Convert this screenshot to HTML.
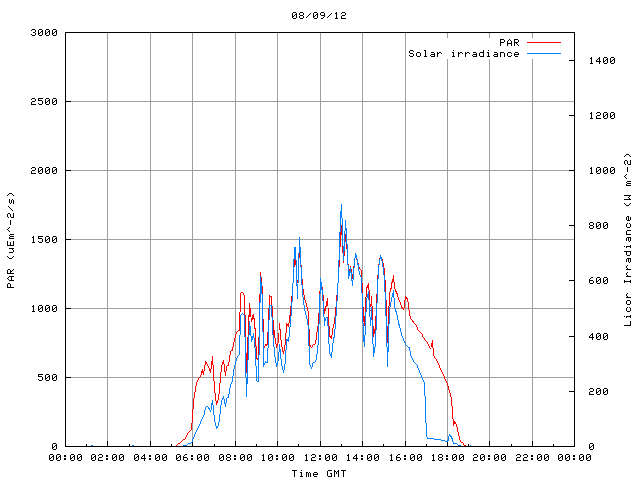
<!DOCTYPE html>
<html><head><meta charset="utf-8"><title>08/09/12</title>
<style>html,body{margin:0;padding:0;background:#fff;font-family:"Liberation Sans",sans-serif}svg{display:block}</style>
</head><body>
<svg width="640" height="480" viewBox="0 0 640 480" shape-rendering="crispEdges">
<rect width="640" height="480" fill="#fff"/>
<path fill="#a0a0a0" d="M447 33h1v5h-1zM489 33h1v5h-1zM532 33h1v5h-1zM107 33h1v413h-1zM150 33h1v413h-1zM192 33h1v413h-1zM235 33h1v413h-1zM277 33h1v413h-1zM320 33h1v413h-1zM362 33h1v413h-1zM405 33h1v413h-1zM447 59h1v387h-1zM489 59h1v387h-1zM532 59h1v387h-1zM66 101h41v1h-41zM108 101h42v1h-42zM151 101h41v1h-41zM193 101h42v1h-42zM236 101h41v1h-41zM278 101h42v1h-42zM321 101h41v1h-41zM363 101h42v1h-42zM406 101h41v1h-41zM448 101h41v1h-41zM490 101h42v1h-42zM533 101h41v1h-41zM66 170h41v1h-41zM108 170h42v1h-42zM151 170h41v1h-41zM193 170h42v1h-42zM236 170h41v1h-41zM278 170h42v1h-42zM321 170h41v1h-41zM363 170h42v1h-42zM406 170h41v1h-41zM448 170h41v1h-41zM490 170h42v1h-42zM533 170h41v1h-41zM66 239h41v1h-41zM108 239h42v1h-42zM151 239h41v1h-41zM193 239h42v1h-42zM236 239h41v1h-41zM278 239h42v1h-42zM321 239h41v1h-41zM363 239h42v1h-42zM406 239h41v1h-41zM448 239h41v1h-41zM490 239h42v1h-42zM533 239h41v1h-41zM66 308h41v1h-41zM108 308h42v1h-42zM151 308h41v1h-41zM193 308h42v1h-42zM236 308h41v1h-41zM278 308h42v1h-42zM321 308h41v1h-41zM363 308h42v1h-42zM406 308h41v1h-41zM448 308h41v1h-41zM490 308h42v1h-42zM533 308h41v1h-41zM66 377h41v1h-41zM108 377h42v1h-42zM151 377h41v1h-41zM193 377h42v1h-42zM236 377h41v1h-41zM278 377h42v1h-42zM321 377h41v1h-41zM363 377h42v1h-42zM406 377h41v1h-41zM448 377h41v1h-41zM490 377h42v1h-42zM533 377h41v1h-41z"/><path fill="#000" d="M293 12h3v1h-3zM300 12h3v1h-3zM314 12h3v1h-3zM321 12h3v1h-3zM342 12h3v1h-3zM336 12h1v7h-1zM310 13h1v1h-1zM331 13h1v1h-1zM335 13h1v1h-1zM341 13h1v1h-1zM299 13h1v2h-1zM303 13h1v2h-1zM320 13h1v2h-1zM345 13h1v2h-1zM324 13h1v4h-1zM292 13h1v5h-1zM296 13h1v5h-1zM313 13h1v5h-1zM317 13h1v5h-1zM295 14h1v1h-1zM309 14h1v1h-1zM316 14h1v1h-1zM330 14h1v1h-1zM294 15h1v1h-1zM300 15h3v1h-3zM308 15h1v1h-1zM315 15h1v1h-1zM321 15h3v1h-3zM329 15h1v1h-1zM342 15h3v1h-3zM293 16h1v1h-1zM307 16h1v1h-1zM314 16h1v1h-1zM328 16h1v1h-1zM299 16h1v2h-1zM303 16h1v2h-1zM341 16h1v3h-1zM306 17h1v1h-1zM323 17h1v1h-1zM327 17h1v1h-1zM293 18h3v1h-3zM300 18h3v1h-3zM314 18h3v1h-3zM321 18h2v1h-2zM335 18h1v1h-1zM337 18h1v1h-1zM342 18h4v1h-4zM32 29h3v1h-3zM39 29h3v1h-3zM46 29h3v1h-3zM53 29h3v1h-3zM31 30h1v1h-1zM35 30h1v2h-1zM38 30h1v5h-1zM42 30h1v5h-1zM45 30h1v5h-1zM49 30h1v5h-1zM52 30h1v5h-1zM56 30h1v5h-1zM41 31h1v1h-1zM48 31h1v1h-1zM55 31h1v1h-1zM33 32h2v1h-2zM40 32h1v1h-1zM47 32h1v1h-1zM54 32h1v1h-1zM66 32h508v1h-508zM65 32h1v415h-1zM574 32h1v415h-1zM39 33h1v1h-1zM46 33h1v1h-1zM53 33h1v1h-1zM35 33h1v2h-1zM31 34h1v1h-1zM32 35h3v1h-3zM39 35h3v1h-3zM46 35h3v1h-3zM53 35h3v1h-3zM501 39h3v1h-3zM509 39h1v1h-1zM515 39h3v1h-3zM500 39h1v7h-1zM514 39h1v7h-1zM508 40h1v1h-1zM510 40h1v1h-1zM504 40h1v2h-1zM518 40h1v2h-1zM507 41h1v5h-1zM511 41h1v5h-1zM501 42h3v1h-3zM515 42h1v1h-1zM517 42h1v1h-1zM516 42h1v2h-1zM508 43h3v1h-3zM517 44h1v1h-1zM518 45h1v1h-1zM410 50h3v1h-3zM424 50h1v1h-1zM453 50h1v1h-1zM488 50h1v1h-1zM425 50h1v7h-1zM483 50h1v7h-1zM413 51h1v1h-1zM409 51h1v2h-1zM417 52h3v1h-3zM431 52h3v1h-3zM439 52h2v1h-2zM452 52h1v1h-1zM460 52h2v1h-2zM467 52h2v1h-2zM473 52h3v1h-3zM480 52h3v1h-3zM487 52h1v1h-1zM494 52h3v1h-3zM501 52h3v1h-3zM508 52h3v1h-3zM515 52h3v1h-3zM437 52h1v5h-1zM453 52h1v5h-1zM458 52h1v5h-1zM465 52h1v5h-1zM488 52h1v5h-1zM500 52h1v5h-1zM410 53h3v1h-3zM438 53h1v1h-1zM441 53h1v1h-1zM459 53h1v1h-1zM462 53h1v1h-1zM466 53h1v1h-1zM469 53h1v1h-1zM511 53h1v1h-1zM518 53h1v2h-1zM416 53h1v3h-1zM420 53h1v3h-1zM479 53h1v3h-1zM507 53h1v3h-1zM514 53h1v3h-1zM434 53h1v4h-1zM476 53h1v4h-1zM497 53h1v4h-1zM504 53h1v4h-1zM431 54h3v1h-3zM473 54h3v1h-3zM494 54h3v1h-3zM515 54h3v1h-3zM413 54h1v2h-1zM409 55h1v1h-1zM430 55h1v1h-1zM472 55h1v1h-1zM493 55h1v1h-1zM511 55h1v1h-1zM410 56h3v1h-3zM417 56h3v1h-3zM424 56h1v1h-1zM426 56h1v1h-1zM431 56h3v1h-3zM452 56h1v1h-1zM454 56h1v1h-1zM473 56h3v1h-3zM480 56h3v1h-3zM487 56h1v1h-1zM489 56h1v1h-1zM494 56h3v1h-3zM508 56h3v1h-3zM515 56h3v1h-3zM604 57h3v1h-3zM611 57h3v1h-3zM591 57h1v7h-1zM599 57h1v7h-1zM590 58h1v1h-1zM598 58h1v1h-1zM603 58h1v5h-1zM607 58h1v5h-1zM610 58h1v5h-1zM614 58h1v5h-1zM597 59h1v1h-1zM606 59h1v1h-1zM613 59h1v1h-1zM569 60h5v1h-5zM605 60h1v1h-1zM612 60h1v1h-1zM596 60h1v2h-1zM597 61h2v1h-2zM600 61h1v1h-1zM604 61h1v1h-1zM611 61h1v1h-1zM590 63h1v1h-1zM592 63h1v1h-1zM604 63h3v1h-3zM611 63h3v1h-3zM32 98h3v1h-3zM39 98h4v1h-4zM46 98h3v1h-3zM53 98h3v1h-3zM38 98h1v3h-1zM31 99h1v1h-1zM35 99h1v2h-1zM45 99h1v5h-1zM49 99h1v5h-1zM52 99h1v5h-1zM56 99h1v5h-1zM39 100h3v1h-3zM48 100h1v1h-1zM55 100h1v1h-1zM32 101h3v1h-3zM47 101h1v1h-1zM54 101h1v1h-1zM66 101h5v1h-5zM42 101h1v3h-1zM46 102h1v1h-1zM53 102h1v1h-1zM31 102h1v3h-1zM38 103h1v1h-1zM32 104h4v1h-4zM39 104h3v1h-3zM46 104h3v1h-3zM53 104h3v1h-3zM597 112h3v1h-3zM604 112h3v1h-3zM611 112h3v1h-3zM591 112h1v7h-1zM590 113h1v1h-1zM596 113h1v1h-1zM600 113h1v2h-1zM603 113h1v5h-1zM607 113h1v5h-1zM610 113h1v5h-1zM614 113h1v5h-1zM606 114h1v1h-1zM613 114h1v1h-1zM569 115h5v1h-5zM597 115h3v1h-3zM605 115h1v1h-1zM612 115h1v1h-1zM604 116h1v1h-1zM611 116h1v1h-1zM596 116h1v3h-1zM590 118h1v1h-1zM592 118h1v1h-1zM597 118h4v1h-4zM604 118h3v1h-3zM611 118h3v1h-3zM626 154h3v1h-3zM625 155h1v1h-1zM629 155h1v1h-1zM624 156h1v1h-1zM630 156h1v1h-1zM625 160h2v1h-2zM630 160h1v5h-1zM624 161h1v3h-1zM627 161h1v3h-1zM625 164h1v1h-1zM628 164h2v1h-2zM32 167h3v1h-3zM39 167h3v1h-3zM46 167h3v1h-3zM53 167h3v1h-3zM597 167h3v1h-3zM604 167h3v1h-3zM611 167h3v1h-3zM627 167h1v5h-1zM591 167h1v7h-1zM31 168h1v1h-1zM590 168h1v1h-1zM35 168h1v2h-1zM38 168h1v5h-1zM42 168h1v5h-1zM45 168h1v5h-1zM49 168h1v5h-1zM52 168h1v5h-1zM56 168h1v5h-1zM596 168h1v5h-1zM600 168h1v5h-1zM603 168h1v5h-1zM607 168h1v5h-1zM610 168h1v5h-1zM614 168h1v5h-1zM41 169h1v1h-1zM48 169h1v1h-1zM55 169h1v1h-1zM599 169h1v1h-1zM606 169h1v1h-1zM613 169h1v1h-1zM32 170h3v1h-3zM40 170h1v1h-1zM47 170h1v1h-1zM54 170h1v1h-1zM66 170h5v1h-5zM569 170h5v1h-5zM598 170h1v1h-1zM605 170h1v1h-1zM612 170h1v1h-1zM39 171h1v1h-1zM46 171h1v1h-1zM53 171h1v1h-1zM597 171h1v1h-1zM604 171h1v1h-1zM611 171h1v1h-1zM31 171h1v3h-1zM32 173h4v1h-4zM39 173h3v1h-3zM46 173h3v1h-3zM53 173h3v1h-3zM590 173h1v1h-1zM592 173h1v1h-1zM597 173h3v1h-3zM604 173h3v1h-3zM611 173h3v1h-3zM626 174h1v1h-1zM625 175h1v1h-1zM624 176h1v1h-1zM625 177h1v1h-1zM626 178h1v1h-1zM627 181h4v1h-4zM626 182h1v1h-1zM627 183h4v1h-4zM626 184h1v2h-1zM627 185h4v1h-4zM9 193h3v1h-3zM8 194h1v1h-1zM12 194h1v1h-1zM7 195h1v1h-1zM13 195h1v1h-1zM624 195h5v1h-5zM630 195h1v1h-1zM629 195h1v2h-1zM628 197h1v1h-1zM629 198h1v2h-1zM12 199h1v1h-1zM624 199h5v1h-5zM630 199h1v1h-1zM9 199h1v4h-1zM11 200h1v3h-1zM13 200h1v4h-1zM10 203h1v1h-1zM624 203h1v1h-1zM630 203h1v1h-1zM625 204h1v1h-1zM629 204h1v1h-1zM626 205h3v1h-3zM8 206h1v1h-1zM9 207h1v1h-1zM10 208h1v1h-1zM11 209h1v1h-1zM12 210h1v1h-1zM8 213h2v1h-2zM13 213h1v5h-1zM7 214h1v3h-1zM10 214h1v3h-1zM627 216h1v1h-1zM628 216h1v5h-1zM8 217h1v1h-1zM11 217h2v1h-2zM626 217h1v3h-1zM630 217h1v3h-1zM627 220h1v1h-1zM629 220h1v1h-1zM10 220h1v5h-1zM590 222h3v1h-3zM597 222h3v1h-3zM604 222h3v1h-3zM627 223h1v1h-1zM629 223h1v1h-1zM589 223h1v2h-1zM593 223h1v2h-1zM596 223h1v5h-1zM600 223h1v5h-1zM603 223h1v5h-1zM607 223h1v5h-1zM599 224h1v1h-1zM606 224h1v1h-1zM626 224h1v3h-1zM630 224h1v3h-1zM569 225h5v1h-5zM590 225h3v1h-3zM598 225h1v1h-1zM605 225h1v1h-1zM597 226h1v1h-1zM604 226h1v1h-1zM589 226h1v2h-1zM593 226h1v2h-1zM9 227h1v1h-1zM627 227h3v1h-3zM8 228h1v1h-1zM590 228h3v1h-3zM597 228h3v1h-3zM604 228h3v1h-3zM7 229h1v1h-1zM8 230h1v1h-1zM627 230h4v1h-4zM9 231h1v1h-1zM626 231h1v4h-1zM10 234h4v1h-4zM627 234h4v1h-4zM9 235h1v1h-1zM10 236h4v1h-4zM39 236h4v1h-4zM46 236h3v1h-3zM53 236h3v1h-3zM38 236h1v3h-1zM33 236h1v7h-1zM32 237h1v1h-1zM627 237h1v1h-1zM629 237h1v1h-1zM9 237h1v2h-1zM628 237h1v4h-1zM630 237h1v4h-1zM45 237h1v5h-1zM49 237h1v5h-1zM52 237h1v5h-1zM56 237h1v5h-1zM10 238h4v1h-4zM39 238h3v1h-3zM48 238h1v1h-1zM55 238h1v1h-1zM626 238h1v3h-1zM47 239h1v1h-1zM54 239h1v1h-1zM66 239h5v1h-5zM42 239h1v3h-1zM46 240h1v1h-1zM53 240h1v1h-1zM38 241h1v1h-1zM629 241h1v1h-1zM7 241h1v5h-1zM13 241h1v5h-1zM32 242h1v1h-1zM34 242h1v1h-1zM39 242h3v1h-3zM46 242h3v1h-3zM53 242h3v1h-3zM10 242h1v4h-1zM8 245h2v1h-2zM11 245h2v1h-2zM630 245h1v3h-1zM624 246h1v1h-1zM627 246h3v1h-3zM626 246h1v2h-1zM9 248h3v1h-3zM13 248h1v1h-1zM12 248h1v2h-1zM13 250h1v2h-1zM624 251h2v1h-2zM627 251h3v1h-3zM626 251h1v4h-1zM630 251h1v4h-1zM9 252h4v1h-4zM627 255h3v1h-3zM7 256h1v1h-1zM13 256h1v1h-1zM8 257h1v1h-1zM12 257h1v1h-1zM9 258h3v1h-3zM627 258h1v1h-1zM629 258h1v1h-1zM628 258h1v4h-1zM630 258h1v4h-1zM626 259h1v3h-1zM629 262h1v1h-1zM627 265h1v1h-1zM626 266h1v2h-1zM627 268h1v2h-1zM8 269h2v1h-2zM13 269h1v1h-1zM626 269h1v1h-1zM628 269h3v1h-3zM12 270h1v1h-1zM7 270h1v4h-1zM10 270h1v4h-1zM11 271h1v1h-1zM627 272h1v1h-1zM8 273h2v1h-2zM11 273h3v1h-3zM626 273h1v2h-1zM627 275h1v2h-1zM9 276h2v1h-2zM12 276h2v1h-2zM626 276h1v1h-1zM628 276h3v1h-3zM11 276h1v5h-1zM8 277h1v1h-1zM591 277h2v1h-2zM597 277h3v1h-3zM604 277h3v1h-3zM7 278h1v1h-1zM590 278h1v1h-1zM596 278h1v5h-1zM600 278h1v5h-1zM603 278h1v5h-1zM607 278h1v5h-1zM8 279h1v1h-1zM599 279h1v1h-1zM606 279h1v1h-1zM589 279h1v4h-1zM9 280h2v1h-2zM12 280h2v1h-2zM569 280h5v1h-5zM590 280h3v1h-3zM598 280h1v1h-1zM605 280h1v1h-1zM624 280h1v3h-1zM630 280h1v3h-1zM597 281h1v1h-1zM604 281h1v1h-1zM625 281h5v1h-5zM593 281h1v2h-1zM8 283h2v1h-2zM590 283h3v1h-3zM597 283h3v1h-3zM604 283h3v1h-3zM7 284h1v4h-1zM10 284h1v4h-1zM8 287h2v1h-2zM11 287h3v1h-3zM627 293h1v1h-1zM626 294h1v2h-1zM627 296h1v2h-1zM626 297h1v1h-1zM628 297h3v1h-3zM627 300h3v1h-3zM626 301h1v3h-1zM630 301h1v3h-1zM627 304h3v1h-3zM39 305h3v1h-3zM46 305h3v1h-3zM53 305h3v1h-3zM33 305h1v7h-1zM32 306h1v1h-1zM38 306h1v5h-1zM42 306h1v5h-1zM45 306h1v5h-1zM49 306h1v5h-1zM52 306h1v5h-1zM56 306h1v5h-1zM41 307h1v1h-1zM48 307h1v1h-1zM55 307h1v1h-1zM627 307h1v1h-1zM629 307h1v1h-1zM40 308h1v1h-1zM47 308h1v1h-1zM54 308h1v1h-1zM66 308h5v1h-5zM626 308h1v3h-1zM630 308h1v3h-1zM39 309h1v1h-1zM46 309h1v1h-1zM53 309h1v1h-1zM32 311h1v1h-1zM34 311h1v1h-1zM39 311h3v1h-3zM46 311h3v1h-3zM53 311h3v1h-3zM627 311h3v1h-3zM630 315h1v3h-1zM624 316h1v1h-1zM627 316h3v1h-3zM626 316h1v2h-1zM630 321h1v5h-1zM624 325h6v1h-6zM597 333h3v1h-3zM604 333h3v1h-3zM592 333h1v7h-1zM591 334h1v1h-1zM596 334h1v5h-1zM600 334h1v5h-1zM603 334h1v5h-1zM607 334h1v5h-1zM590 335h1v1h-1zM599 335h1v1h-1zM606 335h1v1h-1zM569 336h5v1h-5zM598 336h1v1h-1zM605 336h1v1h-1zM589 336h1v2h-1zM590 337h2v1h-2zM593 337h1v1h-1zM597 337h1v1h-1zM604 337h1v1h-1zM597 339h3v1h-3zM604 339h3v1h-3zM39 374h4v1h-4zM46 374h3v1h-3zM53 374h3v1h-3zM38 374h1v3h-1zM45 375h1v5h-1zM49 375h1v5h-1zM52 375h1v5h-1zM56 375h1v5h-1zM39 376h3v1h-3zM48 376h1v1h-1zM55 376h1v1h-1zM47 377h1v1h-1zM54 377h1v1h-1zM66 377h5v1h-5zM42 377h1v3h-1zM46 378h1v1h-1zM53 378h1v1h-1zM38 379h1v1h-1zM39 380h3v1h-3zM46 380h3v1h-3zM53 380h3v1h-3zM590 388h3v1h-3zM597 388h3v1h-3zM604 388h3v1h-3zM589 389h1v1h-1zM593 389h1v2h-1zM596 389h1v5h-1zM600 389h1v5h-1zM603 389h1v5h-1zM607 389h1v5h-1zM599 390h1v1h-1zM606 390h1v1h-1zM569 391h5v1h-5zM590 391h3v1h-3zM598 391h1v1h-1zM605 391h1v1h-1zM597 392h1v1h-1zM604 392h1v1h-1zM589 392h1v3h-1zM590 394h4v1h-4zM597 394h3v1h-3zM604 394h3v1h-3zM107 441h1v6h-1zM150 441h1v6h-1zM192 441h1v6h-1zM235 441h1v6h-1zM277 441h1v6h-1zM320 441h1v6h-1zM362 441h1v6h-1zM405 441h1v6h-1zM447 441h1v6h-1zM489 441h1v6h-1zM532 441h1v6h-1zM53 443h3v1h-3zM590 443h3v1h-3zM86 444h1v3h-1zM129 444h1v3h-1zM171 444h1v3h-1zM214 444h1v3h-1zM256 444h1v3h-1zM298 444h1v3h-1zM341 444h1v3h-1zM383 444h1v3h-1zM426 444h1v3h-1zM468 444h1v3h-1zM511 444h1v3h-1zM553 444h1v3h-1zM52 444h1v5h-1zM56 444h1v5h-1zM589 444h1v5h-1zM593 444h1v5h-1zM55 445h1v1h-1zM592 445h1v1h-1zM54 446h1v1h-1zM66 446h20v1h-20zM87 446h20v1h-20zM108 446h21v1h-21zM130 446h20v1h-20zM151 446h20v1h-20zM172 446h20v1h-20zM193 446h21v1h-21zM215 446h20v1h-20zM236 446h20v1h-20zM257 446h20v1h-20zM278 446h20v1h-20zM299 446h21v1h-21zM321 446h20v1h-20zM342 446h20v1h-20zM363 446h20v1h-20zM384 446h21v1h-21zM406 446h20v1h-20zM427 446h20v1h-20zM448 446h20v1h-20zM469 446h20v1h-20zM490 446h21v1h-21zM512 446h20v1h-20zM533 446h20v1h-20zM554 446h20v1h-20zM591 446h1v1h-1zM53 447h1v1h-1zM590 447h1v1h-1zM53 449h3v1h-3zM590 449h3v1h-3zM50 454h3v1h-3zM57 454h3v1h-3zM71 454h3v1h-3zM78 454h3v1h-3zM92 454h3v1h-3zM99 454h3v1h-3zM113 454h3v1h-3zM120 454h3v1h-3zM135 454h3v1h-3zM156 454h3v1h-3zM163 454h3v1h-3zM177 454h3v1h-3zM185 454h2v1h-2zM198 454h3v1h-3zM205 454h3v1h-3zM220 454h3v1h-3zM227 454h3v1h-3zM241 454h3v1h-3zM248 454h3v1h-3zM269 454h3v1h-3zM283 454h3v1h-3zM290 454h3v1h-3zM312 454h3v1h-3zM326 454h3v1h-3zM333 454h3v1h-3zM368 454h3v1h-3zM375 454h3v1h-3zM398 454h2v1h-2zM411 454h3v1h-3zM418 454h3v1h-3zM439 454h3v1h-3zM453 454h3v1h-3zM460 454h3v1h-3zM474 454h3v1h-3zM481 454h3v1h-3zM495 454h3v1h-3zM502 454h3v1h-3zM517 454h3v1h-3zM524 454h3v1h-3zM538 454h3v1h-3zM545 454h3v1h-3zM559 454h3v1h-3zM566 454h3v1h-3zM580 454h3v1h-3zM587 454h3v1h-3zM144 454h1v7h-1zM263 454h1v7h-1zM306 454h1v7h-1zM348 454h1v7h-1zM356 454h1v7h-1zM391 454h1v7h-1zM433 454h1v7h-1zM98 455h1v1h-1zM143 455h1v1h-1zM184 455h1v1h-1zM262 455h1v1h-1zM305 455h1v1h-1zM311 455h1v1h-1zM347 455h1v1h-1zM355 455h1v1h-1zM390 455h1v1h-1zM397 455h1v1h-1zM432 455h1v1h-1zM473 455h1v1h-1zM516 455h1v1h-1zM523 455h1v1h-1zM64 455h2v2h-2zM102 455h1v2h-1zM106 455h2v2h-2zM149 455h2v2h-2zM191 455h2v2h-2zM226 455h1v2h-1zM230 455h1v2h-1zM234 455h2v2h-2zM276 455h2v2h-2zM315 455h1v2h-1zM319 455h2v2h-2zM361 455h2v2h-2zM404 455h2v2h-2zM438 455h1v2h-1zM442 455h1v2h-1zM446 455h2v2h-2zM477 455h1v2h-1zM488 455h2v2h-2zM520 455h1v2h-1zM527 455h1v2h-1zM531 455h2v2h-2zM573 455h2v2h-2zM49 455h1v5h-1zM53 455h1v5h-1zM56 455h1v5h-1zM60 455h1v5h-1zM70 455h1v5h-1zM74 455h1v5h-1zM77 455h1v5h-1zM81 455h1v5h-1zM91 455h1v5h-1zM95 455h1v5h-1zM112 455h1v5h-1zM116 455h1v5h-1zM119 455h1v5h-1zM123 455h1v5h-1zM134 455h1v5h-1zM138 455h1v5h-1zM155 455h1v5h-1zM159 455h1v5h-1zM162 455h1v5h-1zM166 455h1v5h-1zM176 455h1v5h-1zM180 455h1v5h-1zM197 455h1v5h-1zM201 455h1v5h-1zM204 455h1v5h-1zM208 455h1v5h-1zM219 455h1v5h-1zM223 455h1v5h-1zM240 455h1v5h-1zM244 455h1v5h-1zM247 455h1v5h-1zM251 455h1v5h-1zM268 455h1v5h-1zM272 455h1v5h-1zM282 455h1v5h-1zM286 455h1v5h-1zM289 455h1v5h-1zM293 455h1v5h-1zM325 455h1v5h-1zM329 455h1v5h-1zM332 455h1v5h-1zM336 455h1v5h-1zM367 455h1v5h-1zM371 455h1v5h-1zM374 455h1v5h-1zM378 455h1v5h-1zM410 455h1v5h-1zM414 455h1v5h-1zM417 455h1v5h-1zM421 455h1v5h-1zM452 455h1v5h-1zM456 455h1v5h-1zM459 455h1v5h-1zM463 455h1v5h-1zM480 455h1v5h-1zM484 455h1v5h-1zM494 455h1v5h-1zM498 455h1v5h-1zM501 455h1v5h-1zM505 455h1v5h-1zM537 455h1v5h-1zM541 455h1v5h-1zM544 455h1v5h-1zM548 455h1v5h-1zM558 455h1v5h-1zM562 455h1v5h-1zM565 455h1v5h-1zM569 455h1v5h-1zM579 455h1v5h-1zM583 455h1v5h-1zM586 455h1v5h-1zM590 455h1v5h-1zM52 456h1v1h-1zM59 456h1v1h-1zM73 456h1v1h-1zM80 456h1v1h-1zM94 456h1v1h-1zM115 456h1v1h-1zM122 456h1v1h-1zM137 456h1v1h-1zM142 456h1v1h-1zM158 456h1v1h-1zM165 456h1v1h-1zM179 456h1v1h-1zM200 456h1v1h-1zM207 456h1v1h-1zM222 456h1v1h-1zM243 456h1v1h-1zM250 456h1v1h-1zM271 456h1v1h-1zM285 456h1v1h-1zM292 456h1v1h-1zM328 456h1v1h-1zM335 456h1v1h-1zM354 456h1v1h-1zM370 456h1v1h-1zM377 456h1v1h-1zM413 456h1v1h-1zM420 456h1v1h-1zM455 456h1v1h-1zM462 456h1v1h-1zM483 456h1v1h-1zM497 456h1v1h-1zM504 456h1v1h-1zM540 456h1v1h-1zM547 456h1v1h-1zM561 456h1v1h-1zM568 456h1v1h-1zM582 456h1v1h-1zM589 456h1v1h-1zM183 456h1v4h-1zM396 456h1v4h-1zM51 457h1v1h-1zM58 457h1v1h-1zM72 457h1v1h-1zM79 457h1v1h-1zM93 457h1v1h-1zM99 457h3v1h-3zM114 457h1v1h-1zM121 457h1v1h-1zM136 457h1v1h-1zM157 457h1v1h-1zM164 457h1v1h-1zM178 457h1v1h-1zM184 457h3v1h-3zM199 457h1v1h-1zM206 457h1v1h-1zM221 457h1v1h-1zM227 457h3v1h-3zM242 457h1v1h-1zM249 457h1v1h-1zM270 457h1v1h-1zM284 457h1v1h-1zM291 457h1v1h-1zM312 457h3v1h-3zM327 457h1v1h-1zM334 457h1v1h-1zM369 457h1v1h-1zM376 457h1v1h-1zM397 457h3v1h-3zM412 457h1v1h-1zM419 457h1v1h-1zM439 457h3v1h-3zM454 457h1v1h-1zM461 457h1v1h-1zM474 457h3v1h-3zM482 457h1v1h-1zM496 457h1v1h-1zM503 457h1v1h-1zM517 457h3v1h-3zM524 457h3v1h-3zM539 457h1v1h-1zM546 457h1v1h-1zM560 457h1v1h-1zM567 457h1v1h-1zM581 457h1v1h-1zM588 457h1v1h-1zM141 457h1v2h-1zM353 457h1v2h-1zM50 458h1v1h-1zM57 458h1v1h-1zM71 458h1v1h-1zM78 458h1v1h-1zM92 458h1v1h-1zM113 458h1v1h-1zM120 458h1v1h-1zM135 458h1v1h-1zM142 458h2v1h-2zM145 458h1v1h-1zM156 458h1v1h-1zM163 458h1v1h-1zM177 458h1v1h-1zM198 458h1v1h-1zM205 458h1v1h-1zM220 458h1v1h-1zM241 458h1v1h-1zM248 458h1v1h-1zM269 458h1v1h-1zM283 458h1v1h-1zM290 458h1v1h-1zM326 458h1v1h-1zM333 458h1v1h-1zM354 458h2v1h-2zM357 458h1v1h-1zM368 458h1v1h-1zM375 458h1v1h-1zM411 458h1v1h-1zM418 458h1v1h-1zM453 458h1v1h-1zM460 458h1v1h-1zM481 458h1v1h-1zM495 458h1v1h-1zM502 458h1v1h-1zM538 458h1v1h-1zM545 458h1v1h-1zM559 458h1v1h-1zM566 458h1v1h-1zM580 458h1v1h-1zM587 458h1v1h-1zM64 458h2v2h-2zM106 458h2v2h-2zM149 458h2v2h-2zM187 458h1v2h-1zM191 458h2v2h-2zM226 458h1v2h-1zM230 458h1v2h-1zM234 458h2v2h-2zM276 458h2v2h-2zM319 458h2v2h-2zM361 458h2v2h-2zM400 458h1v2h-1zM404 458h2v2h-2zM438 458h1v2h-1zM442 458h1v2h-1zM446 458h2v2h-2zM488 458h2v2h-2zM531 458h2v2h-2zM573 458h2v2h-2zM98 458h1v3h-1zM311 458h1v3h-1zM473 458h1v3h-1zM516 458h1v3h-1zM523 458h1v3h-1zM50 460h3v1h-3zM57 460h3v1h-3zM71 460h3v1h-3zM78 460h3v1h-3zM92 460h3v1h-3zM99 460h4v1h-4zM113 460h3v1h-3zM120 460h3v1h-3zM135 460h3v1h-3zM156 460h3v1h-3zM163 460h3v1h-3zM177 460h3v1h-3zM184 460h3v1h-3zM198 460h3v1h-3zM205 460h3v1h-3zM220 460h3v1h-3zM227 460h3v1h-3zM241 460h3v1h-3zM248 460h3v1h-3zM262 460h1v1h-1zM264 460h1v1h-1zM269 460h3v1h-3zM283 460h3v1h-3zM290 460h3v1h-3zM305 460h1v1h-1zM307 460h1v1h-1zM312 460h4v1h-4zM326 460h3v1h-3zM333 460h3v1h-3zM347 460h1v1h-1zM349 460h1v1h-1zM368 460h3v1h-3zM375 460h3v1h-3zM390 460h1v1h-1zM392 460h1v1h-1zM397 460h3v1h-3zM411 460h3v1h-3zM418 460h3v1h-3zM432 460h1v1h-1zM434 460h1v1h-1zM439 460h3v1h-3zM453 460h3v1h-3zM460 460h3v1h-3zM474 460h4v1h-4zM481 460h3v1h-3zM495 460h3v1h-3zM502 460h3v1h-3zM517 460h4v1h-4zM524 460h4v1h-4zM538 460h3v1h-3zM545 460h3v1h-3zM559 460h3v1h-3zM566 460h3v1h-3zM580 460h3v1h-3zM587 460h3v1h-3zM292 470h2v1h-2zM295 470h2v1h-2zM301 470h1v1h-1zM328 470h4v1h-4zM341 470h2v1h-2zM344 470h2v1h-2zM294 470h1v7h-1zM334 470h1v7h-1zM338 470h1v7h-1zM343 470h1v7h-1zM335 471h1v1h-1zM337 471h1v1h-1zM327 471h1v5h-1zM300 472h1v1h-1zM307 472h1v1h-1zM309 472h1v1h-1zM314 472h3v1h-3zM336 472h1v2h-1zM301 472h1v5h-1zM306 472h1v5h-1zM330 473h1v1h-1zM317 473h1v2h-1zM313 473h1v3h-1zM308 473h1v4h-1zM310 473h1v4h-1zM331 473h1v4h-1zM314 474h3v1h-3zM300 476h1v1h-1zM302 476h1v1h-1zM314 476h3v1h-3zM328 476h3v1h-3z"/><path fill="#f00" d="M527 42h34v1h-34zM341 225h1v10h-1zM340 232h1v15h-1zM345 234h1v8h-1zM346 244h1v5h-1zM342 246h1v7h-1zM344 251h1v5h-1zM299 253h1v5h-1zM379 258h1v1h-1zM356 259h1v1h-1zM382 259h1v2h-1zM295 259h1v6h-1zM294 259h1v8h-1zM339 260h1v7h-1zM343 261h1v2h-1zM358 263h1v2h-1zM383 263h1v4h-1zM348 264h1v1h-1zM378 264h1v1h-1zM301 265h1v2h-1zM350 266h1v2h-1zM353 266h1v2h-1zM359 267h1v2h-1zM384 268h1v7h-1zM360 269h1v1h-1zM349 269h1v2h-1zM351 269h1v4h-1zM361 270h1v7h-1zM260 272h1v4h-1zM352 274h1v5h-1zM377 275h1v4h-1zM393 275h1v7h-1zM261 277h1v5h-1zM392 279h1v4h-1zM302 279h1v6h-1zM297 280h1v3h-1zM385 280h1v12h-1zM391 282h1v7h-1zM394 282h1v7h-1zM368 283h1v7h-1zM362 283h1v10h-1zM367 285h1v3h-1zM262 286h1v8h-1zM322 287h1v2h-1zM366 287h1v10h-1zM390 288h1v4h-1zM395 289h1v3h-1zM303 289h1v6h-1zM369 290h1v10h-1zM319 291h1v3h-1zM396 291h1v3h-1zM241 292h2v1h-2zM389 292h1v14h-1zM243 293h1v2h-1zM397 293h1v4h-1zM240 293h1v19h-1zM259 294h1v9h-1zM376 294h1v9h-1zM304 295h1v5h-1zM323 295h1v6h-1zM336 295h1v6h-1zM269 295h1v10h-1zM244 295h1v20h-1zM270 296h1v1h-1zM405 296h1v4h-1zM291 296h1v6h-1zM271 296h1v9h-1zM371 296h1v10h-1zM406 297h1v2h-1zM398 297h1v3h-1zM365 297h1v15h-1zM407 298h1v4h-1zM327 298h1v8h-1zM399 300h1v2h-1zM305 300h1v3h-1zM404 300h1v8h-1zM386 300h1v17h-1zM326 301h1v6h-1zM400 302h1v3h-1zM408 302h1v8h-1zM306 303h1v4h-1zM249 303h1v14h-1zM370 304h1v3h-1zM401 305h1v3h-1zM325 306h1v5h-1zM290 306h1v10h-1zM272 306h1v11h-1zM372 306h1v14h-1zM388 306h1v18h-1zM402 307h1v2h-1zM307 307h1v4h-1zM335 307h1v10h-1zM363 307h1v15h-1zM403 308h1v2h-1zM324 308h1v6h-1zM250 308h1v9h-1zM268 308h1v12h-1zM328 308h1v18h-1zM370 310h1v1h-1zM409 310h1v6h-1zM308 311h1v14h-1zM239 312h1v19h-1zM318 313h1v11h-1zM253 314h1v5h-1zM252 315h1v5h-1zM289 315h1v8h-1zM245 315h1v22h-1zM248 315h1v22h-1zM410 316h1v3h-1zM364 316h1v10h-1zM375 316h1v14h-1zM334 317h1v7h-1zM251 318h1v4h-1zM254 318h1v11h-1zM411 319h1v1h-1zM263 319h1v14h-1zM412 320h1v2h-1zM273 320h1v15h-1zM413 321h1v2h-1zM414 323h1v1h-1zM288 323h1v4h-1zM279 323h1v7h-1zM286 323h1v10h-1zM415 324h1v1h-1zM287 324h1v2h-1zM333 324h1v4h-1zM416 325h1v2h-1zM317 326h1v6h-1zM329 326h1v11h-1zM373 326h1v11h-1zM387 326h1v17h-1zM417 327h1v3h-1zM332 328h1v7h-1zM255 328h1v19h-1zM374 329h1v5h-1zM280 329h1v11h-1zM309 329h1v17h-1zM238 330h1v1h-1zM418 330h1v1h-1zM274 330h1v8h-1zM237 331h1v1h-1zM419 331h1v1h-1zM420 332h1v1h-1zM236 332h1v2h-1zM316 332h1v8h-1zM267 332h1v13h-1zM421 333h1v1h-1zM278 333h1v10h-1zM285 333h1v12h-1zM422 334h1v3h-1zM235 334h1v4h-1zM331 335h1v4h-1zM330 336h1v2h-1zM423 337h1v1h-1zM258 337h1v18h-1zM247 337h1v23h-1zM424 338h1v2h-1zM234 338h1v4h-1zM275 338h1v6h-1zM425 340h1v1h-1zM315 340h1v4h-1zM281 340h1v7h-1zM432 340h1v8h-1zM426 341h1v1h-1zM427 342h1v2h-1zM233 342h1v5h-1zM277 343h1v3h-1zM431 343h1v4h-1zM313 344h2v1h-2zM265 344h2v2h-2zM428 344h1v2h-1zM276 344h1v4h-1zM310 345h1v2h-1zM312 345h1v2h-1zM284 345h1v6h-1zM264 346h1v2h-1zM429 346h1v2h-1zM256 346h1v13h-1zM311 347h1v1h-1zM232 347h1v4h-1zM282 347h1v5h-1zM430 348h1v1h-1zM433 348h1v8h-1zM231 350h1v1h-1zM283 351h1v3h-1zM230 351h1v4h-1zM246 353h1v20h-1zM229 355h1v7h-1zM434 356h1v2h-1zM212 356h1v9h-1zM435 358h1v1h-1zM257 358h1v2h-1zM436 359h1v2h-1zM223 360h1v4h-1zM437 361h1v2h-1zM205 361h1v4h-1zM211 361h1v8h-1zM206 362h1v2h-1zM222 362h1v3h-1zM228 362h1v4h-1zM438 363h1v2h-1zM207 364h1v2h-1zM224 364h1v8h-1zM227 365h1v1h-1zM439 365h1v3h-1zM204 365h1v6h-1zM221 365h1v7h-1zM213 365h1v16h-1zM208 366h1v2h-1zM226 366h1v5h-1zM440 368h1v2h-1zM209 368h1v3h-1zM202 369h1v4h-1zM210 369h1v4h-1zM441 370h1v2h-1zM201 371h1v4h-1zM203 371h1v4h-1zM225 371h1v5h-1zM442 372h1v2h-1zM220 372h1v11h-1zM443 374h1v2h-1zM200 375h1v2h-1zM444 376h1v3h-1zM199 377h1v1h-1zM198 378h1v2h-1zM445 379h1v2h-1zM197 380h1v2h-1zM446 381h1v2h-1zM214 381h1v12h-1zM196 382h1v4h-1zM447 383h1v3h-1zM219 383h1v11h-1zM448 386h1v4h-1zM195 386h1v6h-1zM449 390h1v3h-1zM194 392h1v6h-1zM450 393h1v4h-1zM215 393h1v8h-1zM218 394h1v6h-1zM451 397h1v9h-1zM193 398h1v11h-1zM217 400h1v3h-1zM216 401h1v4h-1zM452 406h1v13h-1zM192 409h1v14h-1zM453 419h1v7h-1zM454 421h1v3h-1zM455 422h1v2h-1zM191 423h1v7h-1zM456 424h1v3h-1zM457 427h1v5h-1zM190 430h1v1h-1zM189 431h1v1h-1zM188 432h1v1h-1zM458 432h1v4h-1zM187 433h1v2h-1zM186 435h1v2h-1zM459 436h1v4h-1zM185 437h1v2h-1zM183 439h2v1h-2zM182 440h1v1h-1zM460 440h1v2h-1zM181 441h1v1h-1zM180 442h1v1h-1zM461 442h2v1h-2zM178 443h2v1h-2zM463 443h1v2h-1zM177 444h1v1h-1zM176 445h1v1h-1zM464 445h2v1h-2z"/><path fill="#0080ff" d="M527 53h34v1h-34zM341 204h1v14h-1zM340 211h1v21h-1zM342 218h1v28h-1zM345 220h1v11h-1zM346 228h1v16h-1zM344 231h1v20h-1zM339 232h1v28h-1zM299 237h1v16h-1zM347 244h1v21h-1zM343 246h1v15h-1zM294 247h1v12h-1zM295 247h1v13h-1zM300 247h1v20h-1zM355 253h1v5h-1zM298 253h1v30h-1zM356 255h1v4h-1zM380 255h1v4h-1zM381 257h1v4h-1zM354 258h1v10h-1zM357 259h1v6h-1zM379 259h1v6h-1zM293 259h1v24h-1zM338 260h1v23h-1zM296 260h1v26h-1zM382 261h1v6h-1zM358 264h1v7h-1zM348 265h1v14h-1zM378 265h1v14h-1zM350 267h1v6h-1zM383 267h1v8h-1zM301 267h1v18h-1zM353 268h1v12h-1zM359 271h1v4h-1zM349 271h1v5h-1zM351 272h1v9h-1zM360 275h1v2h-1zM384 275h1v17h-1zM260 276h1v27h-1zM361 277h1v16h-1zM320 278h1v16h-1zM377 279h1v24h-1zM352 280h1v6h-1zM321 282h1v8h-1zM261 282h1v12h-1zM337 283h1v18h-1zM292 283h1v19h-1zM297 284h1v15h-1zM302 285h1v12h-1zM322 289h1v12h-1zM393 290h1v8h-1zM368 291h1v9h-1zM385 292h1v24h-1zM392 293h1v4h-1zM362 293h1v30h-1zM367 294h1v4h-1zM319 294h1v30h-1zM262 294h1v38h-1zM391 297h1v5h-1zM303 297h1v8h-1zM394 298h1v10h-1zM366 298h1v14h-1zM369 300h1v17h-1zM336 301h1v15h-1zM323 301h1v16h-1zM390 302h1v5h-1zM291 302h1v14h-1zM259 302h1v53h-1zM376 303h1v27h-1zM270 305h1v1h-1zM304 305h1v6h-1zM271 305h1v12h-1zM269 305h1v15h-1zM371 307h1v13h-1zM389 307h1v17h-1zM395 308h1v4h-1zM305 311h1v4h-1zM396 311h1v4h-1zM365 312h1v23h-1zM242 313h1v1h-1zM241 314h1v1h-1zM243 314h1v1h-1zM306 315h1v4h-1zM397 315h1v5h-1zM240 315h1v20h-1zM244 315h1v22h-1zM290 316h1v11h-1zM335 316h1v13h-1zM386 316h1v31h-1zM326 317h1v1h-1zM324 317h1v9h-1zM327 317h1v9h-1zM370 317h1v9h-1zM272 317h1v18h-1zM325 318h1v3h-1zM307 319h1v6h-1zM398 320h1v5h-1zM372 320h1v24h-1zM268 320h1v28h-1zM249 321h1v14h-1zM363 323h1v19h-1zM399 324h1v4h-1zM318 324h1v21h-1zM388 324h1v28h-1zM308 325h1v21h-1zM250 326h1v10h-1zM328 326h1v18h-1zM289 327h1v10h-1zM400 328h1v4h-1zM334 329h1v9h-1zM375 330h1v17h-1zM401 332h1v4h-1zM263 332h1v35h-1zM253 333h1v5h-1zM273 335h1v12h-1zM364 335h1v12h-1zM239 335h1v20h-1zM248 335h1v25h-1zM402 336h1v2h-1zM252 336h1v4h-1zM251 336h1v6h-1zM288 337h1v5h-1zM333 337h1v6h-1zM245 337h1v40h-1zM403 338h1v3h-1zM254 338h1v10h-1zM287 339h1v2h-1zM286 339h1v11h-1zM404 341h1v2h-1zM405 343h1v2h-1zM332 343h1v9h-1zM279 344h1v8h-1zM329 344h1v10h-1zM373 344h1v13h-1zM406 345h1v1h-1zM317 345h1v9h-1zM407 346h1v1h-1zM309 346h1v19h-1zM408 347h1v1h-1zM409 347h1v4h-1zM374 347h1v6h-1zM274 347h1v10h-1zM387 347h1v20h-1zM267 348h1v15h-1zM255 348h1v18h-1zM280 349h1v10h-1zM285 350h1v14h-1zM410 351h1v5h-1zM331 352h1v6h-1zM278 352h1v9h-1zM330 354h1v2h-1zM316 354h1v6h-1zM238 355h1v1h-1zM258 355h1v27h-1zM237 356h1v2h-1zM411 356h1v2h-1zM275 357h1v6h-1zM412 358h1v2h-1zM236 358h1v3h-1zM281 359h1v7h-1zM315 360h1v2h-1zM413 360h1v2h-1zM247 360h1v24h-1zM265 361h1v2h-1zM235 361h1v4h-1zM277 361h1v4h-1zM266 362h1v1h-1zM313 362h2v1h-2zM414 362h1v1h-1zM415 363h1v1h-1zM264 363h1v2h-1zM276 363h1v4h-1zM312 363h1v4h-1zM416 364h1v1h-1zM284 364h1v6h-1zM310 365h1v2h-1zM417 365h1v3h-1zM234 365h1v4h-1zM282 366h1v4h-1zM256 366h1v15h-1zM311 367h1v2h-1zM418 368h1v2h-1zM233 369h1v7h-1zM283 370h1v3h-1zM419 370h1v3h-1zM420 373h1v2h-1zM421 375h1v3h-1zM232 376h1v6h-1zM246 377h1v20h-1zM422 378h1v2h-1zM423 380h1v2h-1zM257 381h1v1h-1zM231 382h1v2h-1zM424 382h1v14h-1zM230 384h1v4h-1zM229 388h1v6h-1zM228 394h1v4h-1zM223 396h1v3h-1zM425 396h1v27h-1zM227 397h1v1h-1zM222 398h1v2h-1zM226 398h1v5h-1zM224 399h1v5h-1zM212 400h1v5h-1zM221 400h1v5h-1zM225 403h1v4h-1zM211 403h1v7h-1zM220 405h1v9h-1zM213 405h1v10h-1zM206 406h2v1h-2zM208 407h1v2h-1zM205 407h1v3h-1zM209 408h1v2h-1zM210 410h1v2h-1zM204 410h1v5h-1zM219 414h1v8h-1zM203 415h1v2h-1zM214 415h1v7h-1zM202 417h1v2h-1zM201 419h1v2h-1zM200 421h1v3h-1zM215 422h1v4h-1zM218 422h1v4h-1zM426 423h1v14h-1zM199 424h1v2h-1zM198 426h1v2h-1zM217 426h1v2h-1zM216 426h1v3h-1zM197 428h1v2h-1zM196 430h1v2h-1zM195 432h1v2h-1zM449 434h1v2h-1zM194 434h1v3h-1zM450 435h1v2h-1zM451 436h1v3h-1zM448 436h1v5h-1zM193 437h1v2h-1zM427 437h1v2h-1zM428 438h6v1h-6zM452 438h1v4h-1zM434 439h7v1h-7zM192 439h1v3h-1zM441 440h4v1h-4zM447 440h1v2h-1zM445 441h2v1h-2zM191 442h1v1h-1zM453 442h1v2h-1zM188 443h3v1h-3zM454 443h3v1h-3zM187 444h1v1h-1zM457 444h1v1h-1zM91 445h2v1h-2zM132 445h2v1h-2zM183 445h4v1h-4zM458 445h3v1h-3zM470 445h1v1h-1z"/>
</svg>
</body></html>
